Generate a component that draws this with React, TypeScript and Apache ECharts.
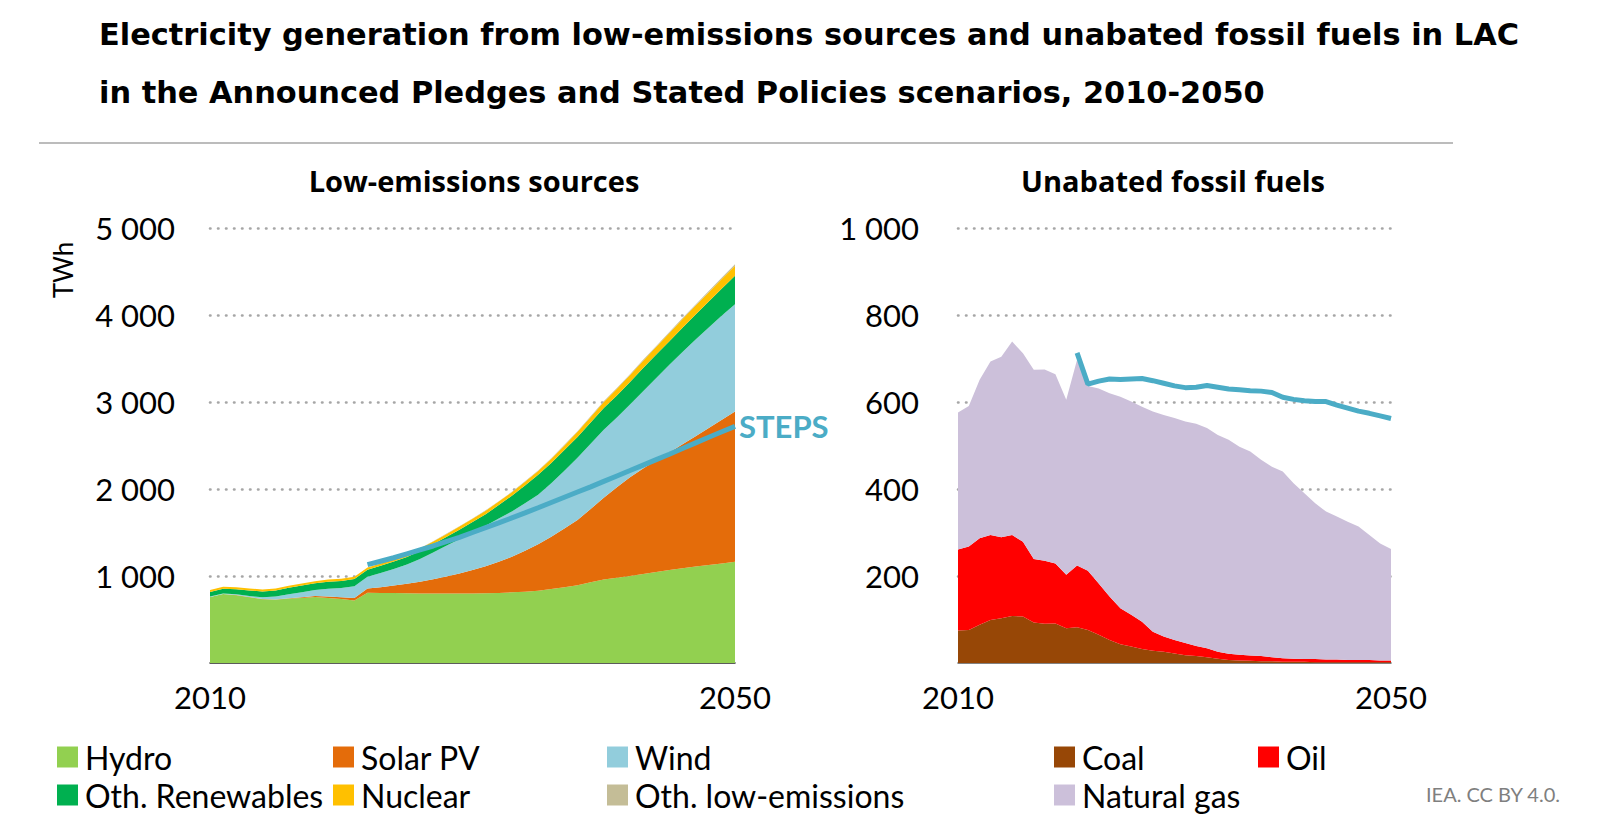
import React, { useEffect, useRef } from 'react';
import * as echarts from 'echarts';

const years = ['2010','2011','2012','2013','2014','2015','2016','2017','2018','2019','2020','2021','2022','2023','2024','2025','2026','2027','2028','2029','2030','2031','2032','2033','2034','2035','2036','2037','2038','2039','2040','2041','2042','2043','2044','2045','2046','2047','2048','2049','2050'];

// Low-emissions sources (TWh)
const hydro = [758,792,780,757,733,728,740,748,758,748,735,718,807,806,804,802,800,799,798,799,800,802,805,812,820,830,850,872,895,928,960,980,1000,1024,1046,1068,1088,1108,1126,1145,1164];
const solarPV = [0,0,1,1,2,3,5,8,12,17,22,30,50,66,86,108,135,163,197,231,268,310,360,410,470,535,600,673,749,842,940,1040,1135,1211,1284,1352,1427,1497,1574,1650,1728];
const wind = [5,6,8,12,20,32,45,58,70,88,104,135,135,163,191,221,260,308,352,392,430,465,495,520,545,570,615,665,715,750,780,801,836,890,947,1007,1059,1112,1157,1198,1233];
const othRenewables = [53,56,60,64,67,71,75,77,78,82,82,82,80,82,85,88,92,95,100,110,122,133,155,180,205,228,235,238,240,245,250,255,260,265,268,272,280,288,298,312,327];
const nuclear = [22,22,23,23,23,23,23,23,23,25,25,25,25,26,27,28,30,32,34,36,38,40,40,41,42,44,48,53,58,64,70,75,80,85,90,95,99,103,107,111,115];
const othLowEmissions = [0,0,0,0,0,0,0,0,0,0,0,0,2,2,2,3,3,3,4,4,4,5,5,5,6,6,6,7,7,8,8,9,9,10,10,11,12,12,13,14,15];
const stepsLow = [null,null,null,null,null,null,null,null,null,null,null,null,1130,1170,1210,1255,1300,1345,1395,1445,1500,1555,1610,1668,1726,1785,1845,1905,1965,2025,2088,2150,2212,2275,2338,2400,2465,2530,2595,2658,2720];

// Unabated fossil fuels (TWh)
const coal = [75,76,88,99,103,108,107,93,90,91,80,82,76,65,53,43,38,32,28,26,22,18,16,13,10,7,6,5,4,4,3,3,3,2,2,2,2,2,2,2,2];
const oil = [186,192,199,195,186,186,172,146,145,138,123,142,136,118,100,83,73,63,44,35,31,28,23,21,16,14,13,12,12,9,8,7,6,7,6,6,5,5,5,4,4];
const naturalGas = [315,323,364,399,415,445,433,435,440,435,402,473,425,448,467,486,490,494,506,509,510,509,511,506,498,492,478,469,451,438,429,403,381,358,340,329,318,307,287,269,256];
const stepsFossil = [null,null,null,null,null,null,null,null,null,null,null,713,641,648,653,652,653,654,649,643,637,633,634,638,634,630,628,626,625,622,611,606,603,601,601,593,586,579,574,568,562];

const leftTicks = { min: 0, max: 5000, interval: 1000 };
const rightTicks = { min: 0, max: 1000, interval: 200 };

const FONT = 'Lato, "Noto Sans", sans-serif';
const TITLE_FONT = '"DejaVu Sans", Lato, sans-serif';
const SUB_FONT = '"Open Sans", Lato, sans-serif';
const STEPS_COLOR = '#4BACC6';

const fmt = (v: number) => {
  if (v === 0) return '';
  if (v >= 1000) return `${Math.floor(v / 1000)} ${String(v % 1000).padStart(3, '0')}`;
  return String(v);
};

const splitLine = {
  show: true,
  showMinLine: false,
  lineStyle: { color: '#A6A6A6', width: 2.6, type: [0.5, 7.5], cap: 'round' },
};

const xAxis = (gridIndex: number, lineColor: string) => ({
  type: 'category',
  gridIndex,
  data: years,
  boundaryGap: false,
  axisTick: { show: false },
  axisLine: { lineStyle: { color: lineColor, width: 1.5 } },
  axisLabel: {
    interval: (i: number) => i === 0 || i === years.length - 1,
    showMinLabel: true,
    showMaxLabel: true,
    fontSize: 31,
    fontFamily: FONT,
    color: '#000',
    margin: 18,
  },
  splitLine: { show: false },
});

const yAxis = (gridIndex: number, ticks: any, margin: number) => ({
  type: 'value',
  gridIndex,
  ...ticks,
  axisLine: { show: false },
  axisTick: { show: false },
  axisLabel: { formatter: fmt, fontSize: 31, fontFamily: FONT, color: '#000', margin },
  splitLine,
});

const area = (name: string, data: number[], color: string, idx: number, stack: string) => ({
  name,
  type: 'line',
  xAxisIndex: idx,
  yAxisIndex: idx,
  stack,
  data,
  color,
  symbol: 'none',
  showSymbol: false,
  lineStyle: { width: 0, color },
  itemStyle: { color },
  areaStyle: { color, opacity: 1 },
  emphasis: { disabled: true },
  silent: true,
});

const steps = (data: (number | null)[], idx: number, label: boolean) => ({
  name: 'STEPS',
  type: 'line',
  xAxisIndex: idx,
  yAxisIndex: idx,
  data,
  symbol: 'none',
  showSymbol: false,
  z: 5,
  color: STEPS_COLOR,
  lineStyle: { color: STEPS_COLOR, width: 5 },
  itemStyle: { color: STEPS_COLOR },
  emphasis: { disabled: true },
  silent: true,
  endLabel: label
    ? { show: true, formatter: 'STEPS', color: STEPS_COLOR, fontSize: 31, fontWeight: 'bold', fontFamily: FONT, distance: 4 }
    : { show: false },
});

const legendItem = (name: string, left: number, top: number) => ({
  data: [name],
  left,
  top,
  padding: 0,
  itemWidth: 21,
  itemHeight: 21,
  icon: 'rect',
  selectedMode: false,
  textStyle: { fontSize: 32, fontFamily: FONT, color: '#000', padding: [0, 0, 0, 2] },
});

const option = {
  animation: false,
  backgroundColor: '#fff',
  title: {
    text: 'Electricity generation from low-emissions sources and unabated fossil fuels in LAC\nin the Announced Pledges and Stated Policies scenarios, 2010-2050',
    left: 99,
    top: 5,
    padding: 0,
    textStyle: { fontSize: 30.4, fontWeight: 'bold', fontFamily: TITLE_FONT, color: '#000', lineHeight: 58 },
  },
  grid: [
    { left: 210, top: 228, width: 525, height: 435 },
    { left: 958, top: 228, width: 433, height: 435 },
  ],
  xAxis: [xAxis(0, '#262626'), xAxis(1, '#595959')],
  yAxis: [yAxis(0, leftTicks, 35), yAxis(1, rightTicks, 39)],
  legend: [
    legendItem('Hydro', 57, 741),
    legendItem('Solar PV', 333, 741),
    legendItem('Wind', 607, 741),
    legendItem('Oth. Renewables', 57, 779),
    legendItem('Nuclear', 333, 779),
    legendItem('Oth. low-emissions', 607, 779),
    legendItem('Coal', 1054, 741),
    legendItem('Oil', 1258, 741),
    legendItem('Natural gas', 1054, 779),
  ],
  series: [
    area('Hydro', hydro, '#92D050', 0, 'low'),
    area('Solar PV', solarPV, '#E46C0A', 0, 'low'),
    area('Wind', wind, '#92CDDC', 0, 'low'),
    area('Oth. Renewables', othRenewables, '#00B050', 0, 'low'),
    area('Nuclear', nuclear, '#FFC000', 0, 'low'),
    area('Oth. low-emissions', othLowEmissions, '#C4BD97', 0, 'low'),
    steps(stepsLow, 0, true),
    area('Coal', coal, '#974706', 1, 'fossil'),
    area('Oil', oil, '#FF0000', 1, 'fossil'),
    area('Natural gas', naturalGas, '#CCC0DA', 1, 'fossil'),
    steps(stepsFossil, 1, false),
  ],
  graphic: [
    { type: 'line', shape: { x1: 39, y1: 143, x2: 1453, y2: 143 }, style: { stroke: '#A6A6A6', lineWidth: 1.5 } },
    { type: 'text', x: 474, y: 180, style: { text: 'Low-emissions sources', fontSize: 29, fontWeight: 'bold', fontFamily: SUB_FONT, fill: '#000', align: 'center', verticalAlign: 'middle' } },
    { type: 'text', x: 1173, y: 180, style: { text: 'Unabated fossil fuels', fontSize: 29, fontWeight: 'bold', fontFamily: SUB_FONT, fill: '#000', align: 'center', verticalAlign: 'middle' } },
    { type: 'text', x: 63, y: 270, rotation: Math.PI / 2, style: { text: 'TWh', fontSize: 26, fontFamily: FONT, fill: '#000', align: 'center', verticalAlign: 'middle' } },
    { type: 'text', x: 1426, y: 794, style: { text: 'IEA. CC BY 4.0.', fontSize: 20, fontFamily: FONT, fill: '#7F7F7F', align: 'left', verticalAlign: 'middle' } },
  ],
};

export default function App() {
  const ref = useRef<HTMLDivElement>(null);
  useEffect(() => {
    const chart = echarts.init(ref.current!, null, { renderer: 'svg' });
    chart.setOption(option as any);
    return () => chart.dispose();
  }, []);
  return (
    <div
      ref={ref}
      style={{ position: 'absolute', left: 0, top: 0, width: 1597, height: 826, background: '#fff' }}
    />
  );
}
